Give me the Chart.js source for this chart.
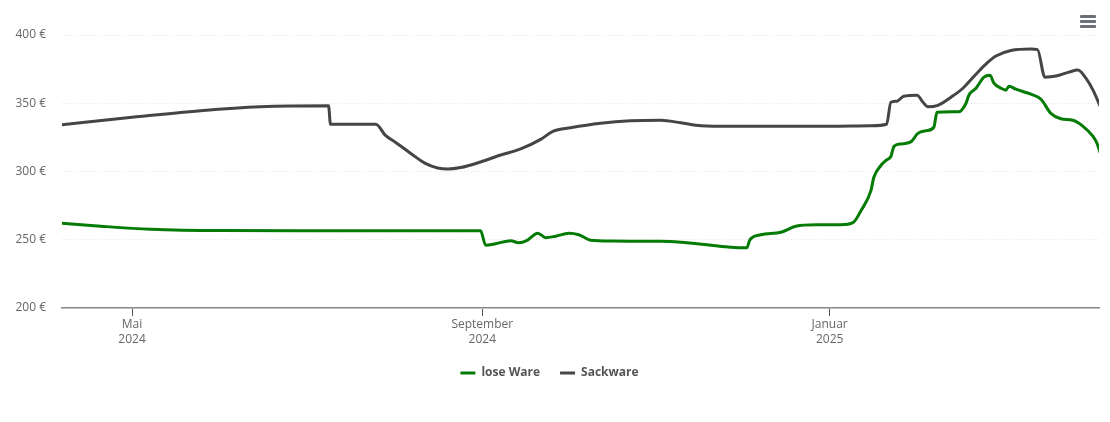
<!DOCTYPE html>
<html lang="de">
<head>
<meta charset="utf-8">
<title>Preisentwicklung</title>
<script src="https://cdn.jsdelivr.net/npm/chart.js@4/dist/chart.umd.min.js"></script>
<style>
  html, body { margin: 0; background: #fff; }
  #wrap { position: relative; width: 1110px; height: 422px; }
  #menu { position: absolute; left: 1080px; top: 15px; width: 16px; }
  #menu i { display: block; height: 3px; margin-bottom: 2px; background: #6e7079; border-radius: 1px; }
</style>
</head>
<body>
<div id="wrap">
  <canvas id="chart" width="1110" height="422"></canvas>
  <div id="menu"><i></i><i></i><i></i></div>
</div>
<script>
// x values are days since 1 May 2024
const looseDays = [-24.8, -11, 6.5, 31, 59.2, 122.4, 124.2, 127.7, 133, 135.8, 138.6, 142.5, 145.3, 148.8, 153.4, 156.9, 161.1, 168.1, 185.7, 192.7, 203.3, 210.3, 215.9, 217, 220.8, 227.9, 233.1, 240.2, 248.9, 253.2, 256, 259.5, 260.5, 263, 264.8, 266.5, 267.6, 270, 273.5, 276, 278.8, 281.6, 282.7, 290.4, 292.9, 293.9, 296.4, 299.2, 301.3, 302.7, 305.2, 306.9, 308, 310.4, 315.7, 319.2, 322.7, 326.2, 330.4, 334, 337.5, 338.9, 340];
const looseValues = [262.1, 259.9, 257.7, 256.7, 256.6, 256.6, 246, 247.1, 249.3, 247.8, 249.3, 254.8, 251.5, 252.6, 254.8, 253.7, 249.6, 249, 248.9, 248.2, 246, 244.5, 244.1, 250, 253.7, 255.5, 259.9, 261, 261, 262.5, 271.3, 286, 295.6, 304.4, 308.1, 311, 318.4, 320.2, 321.7, 327.9, 329.8, 332.4, 343.4, 343.8, 350, 355.9, 361, 369.1, 370.6, 364.7, 361, 359.6, 362.5, 360.3, 356.6, 352.9, 342.6, 338.6, 337.5, 333.1, 325.7, 320.6, 314];
const sackDays = [-24.8, 0, 24, 45, 69, 69.7, 85.6, 89, 92.6, 97.9, 103, 107.3, 110.9, 115.4, 122.4, 129.5, 136.5, 143.5, 147.8, 154, 164.6, 175, 185.7, 192.7, 199.8, 210.3, 245, 259.5, 265, 266.5, 268.6, 271, 275.7, 277.8, 279.5, 283, 287.6, 291.8, 296.4, 300.6, 303.4, 308.7, 315.7, 318, 320.6, 324.5, 329, 332.2, 335, 337.5, 340];
const sackValues = [334.2, 339.7, 344.5, 347.4, 348.2, 334.6, 334.6, 326.5, 321.3, 313.2, 305.9, 302.6, 301.8, 302.9, 307, 312.1, 316.5, 323.5, 329.4, 332, 335.3, 337.1, 337.5, 335.7, 333.5, 333.1, 333.1, 333.5, 334.6, 350.7, 351.5, 355.1, 355.9, 350.7, 347.4, 348.5, 354.4, 361, 371.3, 380.1, 384.6, 388.6, 389.7, 389.3, 369.1, 369.9, 372.8, 374.3, 368.4, 359.6, 347.8];

const monthDays = [0, 123, 245];
const monthLabels = [['Mai', '2024'], ['September', '2024'], ['Januar', '2025']];

const GREEN = '#047b04', GREY = '#454545', TEXT = '#666';
const FONT = "'Open Sans', sans-serif";

const points = (xs, ys) => xs.map((x, i) => ({ x, y: ys[i] }));
const line = (label, data, color) => ({
  label, data, borderColor: color, backgroundColor: color,
  borderWidth: 3, pointRadius: 0, pointStyle: 'line', cubicInterpolationMode: 'monotone',
  borderCapStyle: 'round', borderJoinStyle: 'round',
});

new Chart(document.getElementById('chart'), {
  type: 'line',
  data: { datasets: [
    line('lose Ware', points(looseDays, looseValues), GREEN),
    line('Sackware', points(sackDays, sackValues), GREY),
  ] },
  options: {
    responsive: false,
    animation: false,
    layout: { padding: { left: 0, right: 11, top: 35, bottom: 33 } },
    plugins: {
      tooltip: { enabled: false },
      legend: {
        position: 'bottom',
        labels: {
          usePointStyle: true, pointStyleWidth: 15, boxHeight: 3, padding: 20,
          color: '#555', font: { family: FONT, size: 12, weight: '700' },
        },
      },
    },
    scales: {
      x: {
        type: 'linear', min: -24.6, max: 339.6,
        afterBuildTicks: ax => { ax.ticks = monthDays.map(value => ({ value })); },
        afterFit: ax => { ax.height = 39; },
        grid: { drawOnChartArea: false, drawTicks: true, tickLength: 8, tickColor: '#555' },
        border: { color: '#888', width: 1.5 },
        ticks: {
          autoSkip: false, maxRotation: 0, padding: 1, color: TEXT,
          font: { family: FONT, size: 12, lineHeight: 1.25 },
          callback: v => monthLabels[monthDays.indexOf(v)],
        },
      },
      y: {
        min: 200, max: 400,
        afterFit: ax => { ax.width = 62; },
        grid: { color: '#e6e6e6', lineWidth: 1, drawTicks: false },
        border: { display: false, dash: [1, 2] },
        ticks: {
          stepSize: 50, padding: 16, color: TEXT,
          font: { family: FONT, size: 12 },
          callback: v => v + ' €',
        },
      },
    },
  },
});
</script>
</body>
</html>
